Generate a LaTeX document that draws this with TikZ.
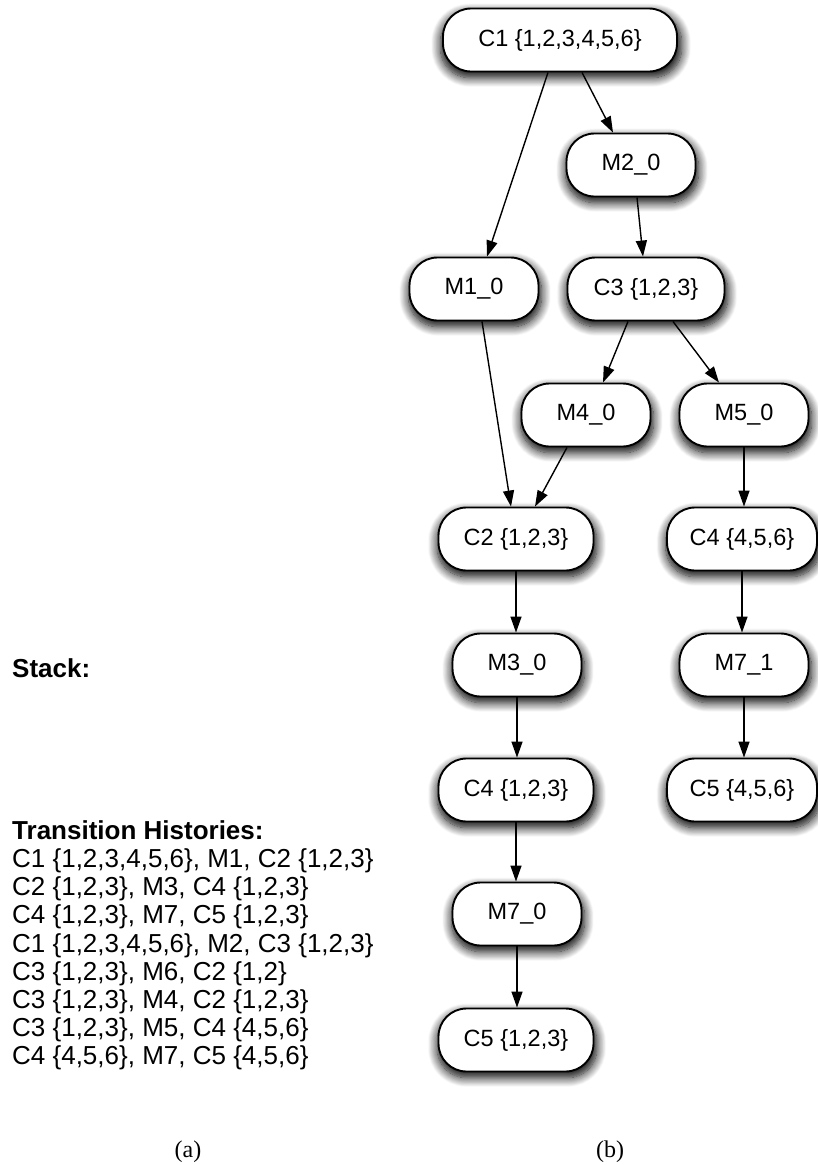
\documentclass[tikz,border=0pt]{standalone}
\usepackage{fontspec}
\setmainfont{Liberation Sans}
\newfontfamily\captionfont{Liberation Serif}
\usetikzlibrary{arrows.meta,shadows.blur}

\begin{document}
\begin{tikzpicture}[x=1pt,y=-1pt,
  state/.style={draw=black, line width=1.9pt, fill=white, rounded corners=28pt,
    minimum height=63pt, inner sep=0pt, font=\fontsize{23.5}{26}\selectfont,
    blur shadow={shadow xshift=1pt, shadow yshift=-5pt, shadow blur radius=9pt,
      shadow blur steps=12, shadow scale=1.03, shadow opacity=100}},
  cset/.style={state, minimum width=155pt},
  move/.style={state, minimum width=129pt},
  link/.style={line width=1.4pt, -{Triangle[length=16pt,width=11pt]}},
  hist/.style={anchor=base west, inner sep=0pt, font=\fontsize{26}{29}\selectfont},
  head/.style={hist, font=\fontsize{26}{29}\selectfont\bfseries},
  captext/.style={inner sep=0pt, font=\captionfont\fontsize{24}{26}\selectfont}
]
\useasboundingbox (0,0) rectangle (818,1165);

% (a) stack and transition histories
\node[head] (stack) at (12,677) {Stack:};
\node[head] (th) at (12,839) {Transition Histories:};
\node[hist] (h1) at (12,867)  {C1 \{1,2,3,4,5,6\}, M1, C2 \{1,2,3\}};
\node[hist] (h2) at (12,895)  {C2 \{1,2,3\}, M3, C4 \{1,2,3\}};
\node[hist] (h3) at (12,923)  {C4 \{1,2,3\}, M7, C5 \{1,2,3\}};
\node[hist] (h4) at (12,952)  {C1 \{1,2,3,4,5,6\}, M2, C3 \{1,2,3\}};
\node[hist] (h5) at (12,980)  {C3 \{1,2,3\}, M6, C2 \{1,2\}};
\node[hist] (h6) at (12,1008) {C3 \{1,2,3\}, M4, C2 \{1,2,3\}};
\node[hist] (h7) at (12,1036) {C3 \{1,2,3\}, M5, C4 \{4,5,6\}};
\node[hist] (h8) at (12,1064) {C4 \{4,5,6\}, M7, C5 \{4,5,6\}};

% (b) search graph
\node[state, minimum width=234pt] (c1) at (560,40) {C1 \{1,2,3,4,5,6\}};
\node[move] (m2) at (631,165) {M2\_0};
\node[move] (m1) at (474,289) {M1\_0};
\node[cset, minimum width=157pt] (c3) at (646,289) {C3 \{1,2,3\}};
\node[move] (m4) at (586,415) {M4\_0};
\node[move] (m5) at (744,415) {M5\_0};
\node[cset] (c2) at (516,539) {C2 \{1,2,3\}};
\node[cset, minimum width=150pt] (c4b) at (742,539) {C4 \{4,5,6\}};
\node[move] (m3) at (517,665) {M3\_0};
\node[move] (m7b) at (744,665) {M7\_1};
\node[cset] (c4a) at (516,790) {C4 \{1,2,3\}};
\node[cset, minimum width=150pt] (c5b) at (742,790) {C5 \{4,5,6\}};
\node[move] (m7a) at (517,914) {M7\_0};
\node[cset] (c5a) at (516,1040) {C5 \{1,2,3\}};

\draw[link] ([xshift=-12pt]c1.south) -- ([xshift=13pt]m1.north);
\draw[link] ([xshift=22pt]c1.south) -- ([xshift=-18pt]m2.north);
\draw[link] ([xshift=6pt]m2.south) -- ([xshift=-3pt]c3.north);
\draw[link] ([xshift=8pt]m1.south) -- ([xshift=-5pt]c2.north);
\draw[link] ([xshift=-18pt]c3.south) -- ([xshift=17pt]m4.north);
\draw[link] ([xshift=27pt]c3.south) -- ([xshift=-25pt]m5.north);
\draw[link] ([xshift=-19pt]m4.south) -- ([xshift=19pt]c2.north);
\draw[link] (m5.south) -- (m5.south |- c4b.north);
\draw[link] (c2.south) -- (c2.south |- m3.north);
\draw[link] (c4b.south) -- (c4b.south |- m7b.north);
\draw[link] (m3.south) -- (m3.south |- c4a.north);
\draw[link] (m7b.south) -- (m7b.south |- c5b.north);
\draw[link] (c4a.south) -- (c4a.south |- m7a.north);
\draw[link] (m7a.south) -- (m7a.south |- c5a.north);

% captions
\node[captext] (capa) at (188,1152) {(a)};
\node[captext] (capb) at (610,1152) {(b)};
\end{tikzpicture}
\end{document}
